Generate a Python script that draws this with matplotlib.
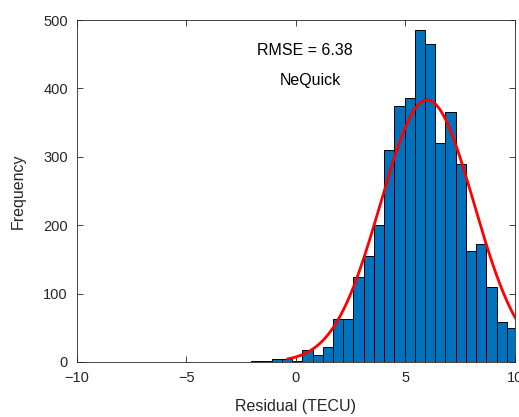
import matplotlib.pyplot as plt
import numpy as np

plt.rcParams['font.family'] = ['Liberation Sans', 'DejaVu Sans']

# histogram bins (TECU) and counts
bin_edges = [-2.04, -1.573, -1.106, -0.639, -0.172, 0.295, 0.762, 1.229, 1.696,
             2.163, 2.63, 3.097, 3.564, 4.031, 4.498, 4.965, 5.432, 5.899,
             6.366, 6.833, 7.3, 7.767, 8.234, 8.701, 9.168, 9.635, 10.102]
counts = [1, 2, 5, 5, 2, 17, 10, 22, 63, 63, 124, 155, 200, 310, 374, 386,
          486, 465, 320, 365, 289, 162, 172, 109, 58, 50]

# fitted normal curve
fit_mu = 6.0
fit_sigma = 2.13
fit_peak = 383
fit_start = -0.37
fit_end = 10.5

x_ticks = [-10, -5, 0, 5, 10]
y_ticks = [0, 100, 200, 300, 400, 500]

axcol = '#262626'

fig = plt.figure(figsize=(5.19, 4.17), dpi=100)
ax = fig.add_axes([0.148, 0.132, 0.844, 0.820])

ax.hist(bin_edges[:-1], bins=bin_edges, weights=counts,
        color='#0072BD', edgecolor='black', linewidth=0.7)

xf = np.linspace(fit_start, fit_end, 300)
yf = fit_peak * np.exp(-0.5 * ((xf - fit_mu) / fit_sigma) ** 2)
ax.plot(xf, yf, color='red', linewidth=2)

ax.set_xlim(-10, 10)
ax.set_ylim(0, 500)
ax.set_xticks(x_ticks)
ax.set_yticks(y_ticks)
ax.tick_params(direction='in', top=True, right=True, length=4, width=0.6,
               colors=axcol, labelsize=10.5)
ax.tick_params(axis='x', pad=6.5)
ax.tick_params(axis='y', pad=6.5)
for s in ax.spines.values():
    s.set_color(axcol)
    s.set_linewidth(0.6)

ax.set_xlabel('Residual (TECU)', fontsize=11.5, color=axcol, labelpad=10)
ax.set_ylabel('Frequency', fontsize=11.5, color=axcol, labelpad=12.5)

ax.text(0.4, 455, 'RMSE = 6.38', fontsize=11.5, ha='center', va='center')
ax.text(0.65, 412, 'NeQuick', fontsize=11.5, ha='center', va='center')

plt.savefig('out.png', dpi=100)
